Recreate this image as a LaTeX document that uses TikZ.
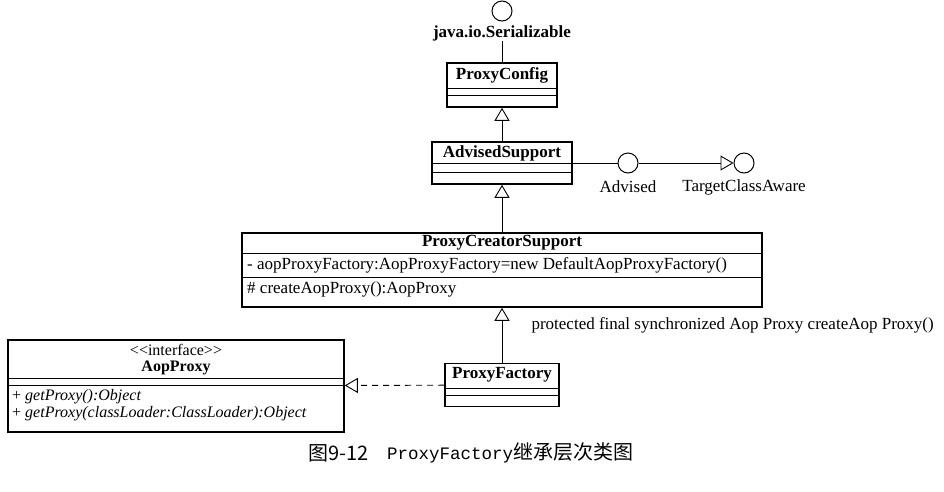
\documentclass[tikz,border=0pt]{standalone}
\usepackage{fontspec}
\setmainfont{Liberation Serif}
\setmonofont{Liberation Mono}
\newfontfamily\cjk{Noto Sans CJK SC}
\usetikzlibrary{arrows.meta}

\begin{document}
\begin{tikzpicture}
[%%%%%%%%%%%%%%%%%%%%%%%%%%%%%%
x=1pt,y=-1pt,
every node/.style={font=\fontsize{17}{19}\selectfont},
cls/.style={rectangle,draw=black,line width=1.6pt,inner sep=0pt},
clsname/.style={font=\fontsize{17}{19}\selectfont\bfseries,inner sep=0pt},
member/.style={anchor=west,inner sep=0pt},
small/.style={font=\fontsize{16}{18}\selectfont},
lolli/.style={circle,draw=black,line width=1pt,minimum size=20pt,inner sep=0pt},
divider/.style={line width=0.8pt},
conn/.style={line width=0.9pt},
extends/.style={conn,-{Triangle[open,length=13pt,width=15pt]}},
implements/.style={extends,dash pattern=on 6pt off 5pt},
]%%%%%%%%%%%%%%%%%%%%%%%%%%%%%%
\useasboundingbox (0,0) rectangle (944,491);
% classes
\node[cls,minimum width=110pt,minimum height=44pt] (config) at (502,85) {};
\node[cls,minimum width=140pt,minimum height=42pt] (advised) at (502,163) {};
\node[cls,minimum width=520pt,minimum height=74pt] (creator) at (502,270) {};
\node[cls,minimum width=114pt,minimum height=43pt] (factory) at (502,385) {};
\node[cls,minimum width=336pt,minimum height=92pt] (aop) at (176,386) {};
\foreach \n/\a/\b in {config/88/95,advised/163/172,creator/253/277,factory/388/395,aop/378/385}{
\draw[divider] (\n.west |- 0,\a) -- (\n.east |- 0,\a);
\draw[divider] (\n.west |- 0,\b) -- (\n.east |- 0,\b);
}
\node[clsname] (confignm) at (502,75) {ProxyConfig};
\node[clsname] (advisednm) at (502,153) {AdvisedSupport};
\node[clsname] (creatornm) at (502,243) {ProxyCreatorSupport};
\node[member] (creatorattr) at (247,265) {- aopProxyFactory:AopProxyFactory=new DefaultAopProxyFactory()};
\node[member] (creatorop) at (247,289) {\# createAopProxy():AopProxy};
\node[clsname] (factorynm) at (502,375) {ProxyFactory};
\node[inner sep=0pt,small] (aopstereo) at (176,349.5) {\textless\kern0pt\textless interface\textgreater\kern0pt\textgreater};
\node[clsname,font=\fontsize{16}{18}\selectfont\bfseries] (aopnm) at (176,367.5) {AopProxy};
\node[member,small] (aopop1) at (12,397) {+ \textit{getProxy():Object}};
\node[member,small] (aopop2) at (12,414) {+ \textit{getProxy(classLoader:ClassLoader):Object}};
% interfaces
\node[lolli] (ser) at (502,11) {};
\node[clsname] (sername) at (502,33) {java.io.Serializable};
\node[lolli] (advi) at (628,163) {};
\node (advilabel) at (628,187) {Advised};
\node[lolli] (tca) at (744,163) {};
\node (tcalabel) at (744,187) {TargetClassAware};
% connectors
\draw[conn] (sername) -- (config);
\draw[conn] (advised.east |- advi) -- (advi);
\draw[extends] (advi) -- (tca);
\draw[extends] (advised) -- (config);
\draw[extends] (creator) -- (advised);
\draw[extends] (factory) -- (creator);
\draw[implements] (factory) -- (aop);
\node[anchor=west] (protlabel) at (528,325) {protected final synchronized Aop Proxy createAop Proxy()};
% caption
\node[anchor=west,inner sep=0pt,font=\cjk\fontsize{20}{22}\selectfont] (capnum) at (308,453) {图9-12};
\node[anchor=west,inner sep=0pt,font=\fontsize{17.5}{22}\selectfont] (captext) at (387,453) {\ttfamily ProxyFactory{\cjk\fontsize{20}{22}\selectfont 继承层次类图}};
\end{tikzpicture}
\end{document}
